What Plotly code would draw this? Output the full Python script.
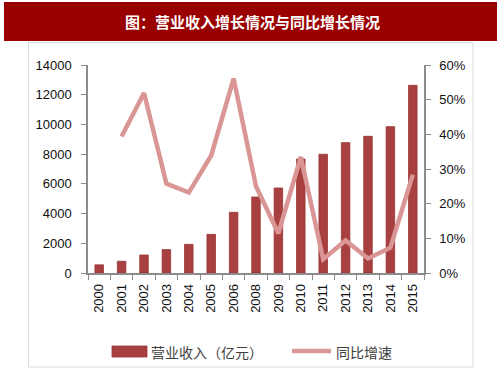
import plotly.graph_objects as go

years = ["2000", "2001", "2002", "2003", "2004", "2005", "2006", "2008",
         "2009", "2010", "2011", "2012", "2013", "2014", "2015"]
revenue = [550, 790, 1210, 1575, 1930, 2600, 4085, 5115,
           5720, 7670, 7990, 8775, 9200, 9850, 12630]
growth = [None, 0.394, 0.519, 0.258, 0.232, 0.339, 0.561, 0.250,
          0.114, 0.335, 0.040, 0.094, 0.042, 0.073, 0.284]
left_ticks = [0, 2000, 4000, 6000, 8000, 10000, 12000, 14000]
right_ticks = [0, 0.1, 0.2, 0.3, 0.4, 0.5, 0.6]
title_text = "图：营业收入增长情况与同比增长情况"
bar_name = "营业收入（亿元）"
line_name = "同比增速"

W, H = 503, 378
L, R, T, B = 88, 424, 65, 273
pw, ph = R - L, B - T


def px(x):
    return (x - L) / pw


def py(y):
    return (B - y) / ph


bar_color = "#A8403F"
line_color = "#D99694"
axis_color = "#8C8C8C"
font_main = "Liberation Sans, Arial, sans-serif"
font_cjk = "Noto Sans CJK SC, sans-serif"

fig = go.Figure()
fig.add_trace(go.Bar(x=years, y=revenue, name=bar_name,
                     marker=dict(color=bar_color, line=dict(color="#983434", width=0.8)),
                     width=0.38, yaxis="y"))
fig.add_trace(go.Scatter(x=years, y=growth, name=line_name, mode="lines",
                         line=dict(color=line_color, width=4.5), yaxis="y2", connectgaps=False))

tick_font = dict(family=font_main, size=13, color="#111111")
fig.update_layout(
    width=W, height=H,
    margin=dict(l=L, r=W - R, t=T, b=H - B, pad=0),
    paper_bgcolor="white", plot_bgcolor="white",
    showlegend=False,
    xaxis=dict(type="category", showgrid=False, showline=True, linecolor=axis_color, linewidth=1.5,
               ticks="outside", tickson="boundaries", ticklen=5, tickcolor=axis_color, tickwidth=1.2,
               tickangle=-90, tickfont=tick_font, ticklabelstandoff=4),
    yaxis=dict(range=[0, 14000], tickvals=left_ticks, tickformat="d", showgrid=False, zeroline=False,
               showline=True, linecolor=axis_color, linewidth=1.5, ticks="outside", ticklen=5,
               tickcolor=axis_color, tickwidth=1.2, tickfont=tick_font, ticklabelstandoff=7),
    yaxis2=dict(range=[0, 0.6], tickvals=right_ticks, tickformat=".0%", overlaying="y", side="right",
                showgrid=False, zeroline=False, showline=True, linecolor=axis_color, linewidth=1.5,
                ticks="outside", ticklen=5, tickcolor=axis_color, tickwidth=1.2, tickfont=tick_font,
                ticklabelstandoff=6),
    bargap=0.62,
)

shapes = [
    dict(type="rect", xref="paper", yref="paper", x0=px(28.5), x1=px(473), y0=py(367), y1=py(42.5),
         line=dict(color="#DADADA", width=1), fillcolor="rgba(0,0,0,0)", layer="below"),
    dict(type="rect", xref="paper", yref="paper", x0=px(4), x1=px(497), y0=py(41), y1=py(2),
         line=dict(width=0), fillcolor="#990000"),
    dict(type="rect", xref="paper", yref="paper", x0=px(112), x1=px(147), y0=py(357), y1=py(346),
         line=dict(color="#983434", width=0.8), fillcolor=bar_color),
    dict(type="line", xref="paper", yref="paper", x0=px(292), x1=px(331), y0=py(351), y1=py(351),
         line=dict(color=line_color, width=4.5)),
]
fig.update_layout(shapes=shapes)

annotations = [
    dict(text=title_text, xref="paper", yref="paper", x=px(252), y=py(21.5), showarrow=False,
         xanchor="center", yanchor="middle",
         font=dict(family=font_cjk, size=15, color="white", weight="bold")),
    dict(text=bar_name, xref="paper", yref="paper", x=px(149), y=py(351.5), showarrow=False,
         xanchor="left", yanchor="middle", font=dict(family=font_cjk, size=14, color="#404040")),
    dict(text=line_name, xref="paper", yref="paper", x=px(334), y=py(351.5), showarrow=False,
         xanchor="left", yanchor="middle", font=dict(family=font_cjk, size=14, color="#404040")),
]
fig.update_layout(annotations=annotations)

fig.write_html("out.html", config={"displayModeBar": False},
               post_script="document.body.style.margin='0';document.body.style.overflow='hidden';")
